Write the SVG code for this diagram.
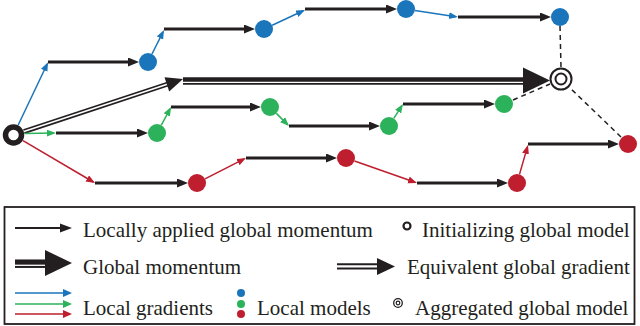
<svg xmlns="http://www.w3.org/2000/svg" width="640" height="326" viewBox="0 0 640 326">
<style>
.k{stroke:#231f20;stroke-width:3;fill:none;marker-end:url(#ak)}
.b{stroke:#1b75bb;stroke-width:1.5;fill:none;marker-end:url(#ab)}
.g{stroke:#2bb25a;stroke-width:1.5;fill:none;marker-end:url(#ag)}
.r{stroke:#be1e2d;stroke-width:1.5;fill:none;marker-end:url(#ar)}
.d{stroke:#231f20;stroke-width:1.5;fill:none;stroke-dasharray:5 4}
.nb{fill:#1b75bb}.ng{fill:#2bb25a}.nr{fill:#be1e2d}
.t{font-family:"Liberation Serif","Times New Roman",serif;font-size:21px;fill:#231f20}
</style>
<defs>
<marker id="ak" markerUnits="userSpaceOnUse" markerWidth="12" markerHeight="10" refX="6" refY="4.5" orient="auto"><path d="M0,0 L11,4.5 L0,9 z" fill="#231f20"/></marker>
<marker id="ab" markerUnits="userSpaceOnUse" markerWidth="10" markerHeight="8" refX="7" refY="3.5" orient="auto"><path d="M0,0 L9,3.5 L0,7 z" fill="#1b75bb"/></marker>
<marker id="ag" markerUnits="userSpaceOnUse" markerWidth="10" markerHeight="8" refX="7" refY="3.5" orient="auto"><path d="M0,0 L9,3.5 L0,7 z" fill="#2bb25a"/></marker>
<marker id="ar" markerUnits="userSpaceOnUse" markerWidth="10" markerHeight="8" refX="7" refY="3.5" orient="auto"><path d="M0,0 L9,3.5 L0,7 z" fill="#be1e2d"/></marker>
</defs>
<g id="connectors">
<!-- equivalent global gradient -->
<line x1="23.9" y1="131.6" x2="168" y2="84" stroke="#231f20" stroke-width="5"/>
<line x1="23.9" y1="131.6" x2="168" y2="84" stroke="#fff" stroke-width="1.6"/>
<polygon points="183,79 169.2,91.4 164.5,77.2" fill="#231f20"/>
<!-- global momentum -->
<line x1="183" y1="81" x2="526" y2="81" stroke="#231f20" stroke-width="7.5"/>
<line x1="183" y1="82.3" x2="526" y2="82.3" stroke="#fff" stroke-width="1.2"/>
<polygon points="523,67.5 550,80.5 523,93.5" fill="#231f20"/>
<!-- blue -->
<line class="b" x1="18.2" y1="125" x2="47.2" y2="64"/>
<line class="k" x1="48" y1="62" x2="134" y2="62"/>
<line class="b" x1="152" y1="54" x2="163.1" y2="31.8"/>
<line class="k" x1="164" y1="29" x2="250" y2="29"/>
<line class="b" x1="272.2" y1="25.2" x2="303.2" y2="10.8"/>
<line class="k" x1="305" y1="9" x2="392" y2="9"/>
<line class="b" x1="414.9" y1="10.4" x2="456" y2="16.7"/>
<line class="k" x1="458" y1="17" x2="546" y2="17"/>
<!-- green -->
<line class="g" x1="25" y1="133.5" x2="54" y2="133"/>
<line class="k" x1="56" y1="133" x2="143" y2="133"/>
<line class="g" x1="161.3" y1="125.1" x2="170.1" y2="108.8"/>
<line class="k" x1="171" y1="107" x2="256" y2="107"/>
<line class="g" x1="276.4" y1="113.4" x2="287.6" y2="124.6"/>
<line class="k" x1="289" y1="126" x2="375" y2="126"/>
<line class="g" x1="393.8" y1="118.4" x2="401.9" y2="105.7"/>
<line class="k" x1="403" y1="104" x2="490" y2="104"/>
<!-- red -->
<line class="r" x1="23" y1="140.6" x2="93.3" y2="182"/>
<line class="k" x1="95" y1="183" x2="183" y2="183"/>
<line class="r" x1="205" y1="178.9" x2="244.2" y2="158.9"/>
<line class="k" x1="246" y1="158" x2="332" y2="158"/>
<line class="r" x1="354.5" y1="161" x2="415.1" y2="182.3"/>
<line class="k" x1="417" y1="183" x2="503" y2="183"/>
<line class="r" x1="519.5" y1="174.4" x2="527.4" y2="146.9"/>
<line class="k" x1="528" y1="144" x2="614" y2="144"/>
<!-- dashed aggregation -->
<line class="d" x1="560" y1="26" x2="561" y2="67"/>
<line class="d" x1="513" y1="100" x2="550" y2="84"/>
<line class="d" x1="621" y1="137" x2="569" y2="87"/>
</g>
<g id="init"><circle cx="13.5" cy="135" r="8" fill="#fff" stroke="#231f20" stroke-width="5.5"/></g>
<g id="agg"><circle cx="561" cy="79" r="10.5" fill="#fff" stroke="#231f20" stroke-width="2"/><circle cx="561" cy="79" r="5.5" fill="#fff" stroke="#231f20" stroke-width="2"/></g>
<g id="b1"><circle class="nb" cx="148" cy="62" r="9"/></g>
<g id="b2"><circle class="nb" cx="264" cy="29" r="9"/></g>
<g id="b3"><circle class="nb" cx="406" cy="9" r="9"/></g>
<g id="b4"><circle class="nb" cx="560" cy="17" r="9"/></g>
<g id="g1"><circle class="ng" cx="157" cy="133" r="9"/></g>
<g id="g2"><circle class="ng" cx="270" cy="107" r="9"/></g>
<g id="g3"><circle class="ng" cx="389" cy="126" r="9"/></g>
<g id="g4"><circle class="ng" cx="504" cy="104" r="9"/></g>
<g id="r1"><circle class="nr" cx="197" cy="183" r="9"/></g>
<g id="r2"><circle class="nr" cx="346" cy="158" r="9"/></g>
<g id="r3"><circle class="nr" cx="517" cy="183" r="9"/></g>
<g id="r4"><circle class="nr" cx="628" cy="144" r="9"/></g>
<g id="legend">
<rect x="4.5" y="207" width="630" height="117" fill="none" stroke="#231f20" stroke-width="1.8"/>
<line x1="15" y1="228" x2="66" y2="228" stroke="#231f20" stroke-width="2.2"/>
<polygon points="60,223.5 72,228 60,232.5" fill="#231f20"/>
<text class="t" x="83" y="237">Locally applied global momentum</text>
<circle cx="407" cy="226" r="3.5" fill="#fff" stroke="#231f20" stroke-width="2.2"/>
<text class="t" x="422" y="237">Initializing global model</text>
<line x1="15" y1="263.7" x2="47" y2="263.7" stroke="#231f20" stroke-width="8.5"/>
<line x1="15" y1="265.3" x2="47" y2="265.3" stroke="#fff" stroke-width="1.3"/>
<polygon points="45,250 72,263 45,276" fill="#231f20"/>
<text class="t" x="83" y="274">Global momentum</text>
<line x1="337" y1="266.4" x2="380" y2="266.4" stroke="#231f20" stroke-width="6.2"/>
<line x1="337" y1="266.4" x2="380" y2="266.4" stroke="#fff" stroke-width="2.4"/>
<polygon points="377,258 395,266.5 377,275" fill="#231f20"/>
<text class="t" x="407" y="274">Equivalent global gradient</text>
<line x1="15" y1="293" x2="64" y2="293" stroke="#1b75bb" stroke-width="1.5"/>
<polygon points="63,289 72,293 63,297" fill="#1b75bb"/>
<line x1="15" y1="304" x2="64" y2="304" stroke="#2bb25a" stroke-width="1.5"/>
<polygon points="63,300 72,304 63,308" fill="#2bb25a"/>
<line x1="15" y1="314" x2="64" y2="314" stroke="#be1e2d" stroke-width="1.5"/>
<polygon points="63,310 72,314 63,318" fill="#be1e2d"/>
<text class="t" x="83" y="315">Local gradients</text>
<circle class="nb" cx="241" cy="293" r="4"/>
<circle class="ng" cx="241" cy="304" r="4"/>
<circle class="nr" cx="241" cy="314" r="4"/>
<text class="t" x="257" y="315">Local models</text>
<circle cx="398" cy="303" r="4.3" fill="#fff" stroke="#231f20" stroke-width="1.3"/>
<circle cx="398" cy="303" r="1.8" fill="#fff" stroke="#231f20" stroke-width="1.2"/>
<text class="t" x="415" y="315">Aggregated global model</text>
</g>
</svg>
